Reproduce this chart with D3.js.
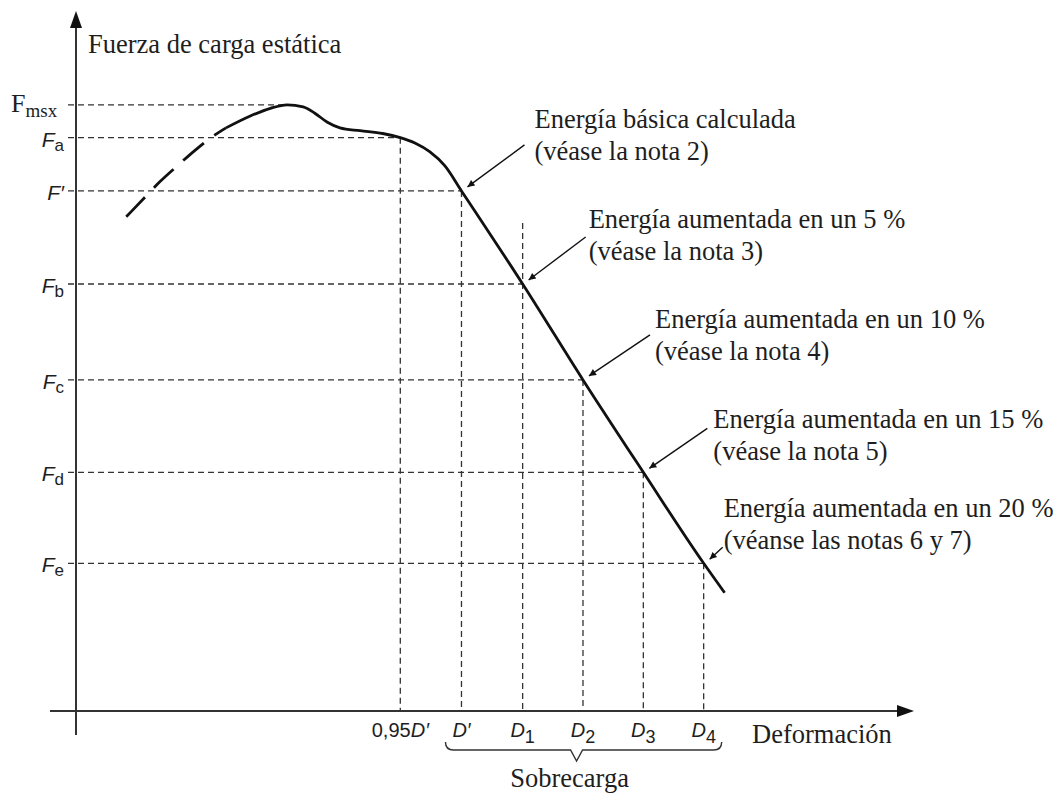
<!DOCTYPE html>
<html>
<head>
<meta charset="utf-8">
<script src="https://cdn.jsdelivr.net/npm/d3@7/dist/d3.min.js"></script>
<style>
  html, body { margin: 0; padding: 0; background: #fff; }
  svg { display: block; }
  .serif { font-family: "Liberation Serif", "Times New Roman", serif; fill: #1e1e1e; }
  .sans { font-family: "Liberation Sans", Arial, sans-serif; fill: #1e1e1e; }
</style>
</head>
<body>
<svg id="chart" width="1063" height="796"></svg>
<script>
// Deformation positions on the horizontal axis (arbitrary units)
const deformTicks = [38.7, 46.0, 53.3, 60.5, 67.7, 74.9];
const deformLabels = ["0,95D'", "D'", "D1", "D2", "D3", "D4"];

// Force levels on the vertical axis (arbitrary units)
const forceLevels = [86.6, 81.9, 74.3, 61.0, 47.3, 34.1, 21.1];
const forceLabels = ["Fmsx", "Fa", "F'", "Fb", "Fc", "Fd", "Fe"];

// Deformation where the peak force is reached
const peakDeform = 25.2;

// Initial (estimated) rise of the load curve, drawn dashed
const riseCurve = [
  [6.0, 70.6], [8.0, 73.1], [10.0, 75.6], [12.2, 78.0],
  [14.2, 80.1], [16.1, 81.9], [17.9, 83.3]
];

// Measured load curve: peak, plateau and linear decline
const loadCurve = [
  [17.9, 83.3], [20.8, 85.0], [23.2, 86.1], [25.2, 86.6], [27.1, 86.3],
  [28.5, 85.4], [30.0, 84.1], [31.5, 83.3], [33.9, 82.9], [36.6, 82.5],
  [38.7, 81.9], [40.5, 81.1], [42.2, 79.9], [44.0, 77.9],
  [46.0, 74.3], [53.3, 61.0], [60.5, 47.3], [67.7, 34.1], [74.9, 21.1],
  [77.4, 16.9]
];

// Upper end of the D1 guide line
const d1GuideTop = 69.7;

// Energy callouts: text lines and the deformation tick each one points at
const calloutText = [
  ["Energía básica calculada", "(véase la nota 2)"],
  ["Energía aumentada en un 5 %", "(véase la nota 3)"],
  ["Energía aumentada en un 10 %", "(véase la nota 4)"],
  ["Energía aumentada en un 15 %", "(véase la nota 5)"],
  ["Energía aumentada en un 20 %", "(véanse las notas 6 y 7)"]
];
const calloutTick = [1, 2, 3, 4, 5];

const axisTitleY = "Fuerza de carga estática";
const axisTitleX = "Deformación";
const braceLabel = "Sobrecarga";

// ---- layout ----
const svg = d3.select("#chart");
const x = d3.scaleLinear().domain([0, 100]).range([76, 914]);
const y = d3.scaleLinear().domain([0, 100]).range([711, 11]);
const TXT = 26.5;

// pixel offsets of callout text / arrow tail from the curve point
const calloutLayout = [
  { tx: 73, ty: -63, ax: 63, ay: -46 },
  { tx: 66, ty: -56, ax: 63, ay: -47 },
  { tx: 72, ty: -52, ax: 67, ay: -45 },
  { tx: 70, ty: -44, ax: 64, ay: -44 },
  { tx: 20, ty: -46, ax: 19, ay: -16 }
];

const defs = svg.append("defs");
defs.append("marker")
  .attr("id", "arrowHead")
  .attr("viewBox", "0 0 10 10")
  .attr("refX", 10).attr("refY", 5)
  .attr("markerWidth", 11).attr("markerHeight", 7)
  .attr("markerUnits", "userSpaceOnUse")
  .attr("orient", "auto")
  .append("path").attr("d", "M0,0 L10,5 L0,10 Z").attr("fill", "#111");

const guideStyle = g => g.attr("stroke", "#333").attr("stroke-width", 1.3)
  .attr("stroke-dasharray", "6,4").attr("fill", "none");

// horizontal guide lines, each ending at its deformation
const hEnds = [peakDeform].concat(deformTicks);
const guides = svg.append("g");
forceLevels.forEach((f, i) => {
  guides.append("line")
    .attr("x1", x(0) - 8).attr("x2", x(hEnds[i]))
    .attr("y1", y(f)).attr("y2", y(f))
    .call(guideStyle);
});
// vertical guide lines down to the deformation axis
deformTicks.forEach((d, i) => {
  const top = i === 2 ? d1GuideTop : forceLevels[i + 1];
  guides.append("line")
    .attr("x1", x(d)).attr("x2", x(d))
    .attr("y1", y(top)).attr("y2", y(0))
    .call(guideStyle);
});

// axes
const axes = svg.append("g").attr("stroke", "#333").attr("stroke-width", 2);
axes.append("line").attr("x1", x(0)).attr("x2", x(0))
  .attr("y1", y(0) + 24).attr("y2", y(100) + 12);
axes.append("line").attr("x1", x(0) - 26).attr("x2", x(100) - 14)
  .attr("y1", y(0)).attr("y2", y(0));
svg.append("path")
  .attr("d", `M${x(0)},${y(100)} L${x(0) - 6},${y(100) + 17} L${x(0) + 6},${y(100) + 17} Z`)
  .attr("fill", "#111");
svg.append("path")
  .attr("d", `M${x(100)},${y(0)} L${x(100) - 17},${y(0) - 6} L${x(100) - 17},${y(0) + 6} Z`)
  .attr("fill", "#111");

// load curve
const line = d3.line().x(d => x(d[0])).y(d => y(d[1])).curve(d3.curveMonotoneX);
svg.append("path").datum(riseCurve)
  .attr("d", line)
  .attr("fill", "none").attr("stroke", "#111").attr("stroke-width", 2.8)
  .attr("stroke-dasharray", "27,13");
svg.append("path").datum(loadCurve)
  .attr("d", line)
  .attr("fill", "none").attr("stroke", "#111").attr("stroke-width", 2.8);

// axis titles
svg.append("text").attr("class", "serif").attr("font-size", TXT)
  .attr("x", x(0) + 12).attr("y", 53).text(axisTitleY);
svg.append("text").attr("class", "serif").attr("font-size", TXT)
  .attr("x", 752).attr("y", 743).text(axisTitleX);

// force labels
forceLabels.forEach((lab, i) => {
  const yy = y(forceLevels[i]);
  if (lab === "Fmsx") {
    const t = svg.append("text").attr("class", "serif").attr("x", 11).attr("y", yy + 7);
    t.append("tspan").attr("font-size", 26).text("F");
    t.append("tspan").attr("font-size", 19).attr("dy", 5).text("msx");
    return;
  }
  const t = svg.append("text").attr("class", "sans")
    .attr("x", 64).attr("y", yy + 9).attr("text-anchor", "end");
  t.append("tspan").attr("font-size", 21).attr("font-style", "italic").text("F");
  const rest = lab.slice(1);
  if (rest === "'") {
    t.append("tspan").attr("font-size", 21).attr("font-style", "italic").text("′");
  } else {
    t.append("tspan").attr("font-size", 17).attr("dy", 4).text(rest);
  }
});

// deformation labels
deformLabels.forEach((lab, i) => {
  const t = svg.append("text").attr("class", "sans")
    .attr("x", x(deformTicks[i])).attr("y", 737).attr("text-anchor", "middle")
    .attr("font-size", 20);
  const k = lab.indexOf("D");
  if (k > 0) t.append("tspan").text(lab.slice(0, k));
  t.append("tspan").attr("font-style", "italic").text("D");
  const rest = lab.slice(k + 1);
  if (rest === "'") {
    t.append("tspan").attr("font-style", "italic").text("′");
  } else {
    t.append("tspan").attr("font-size", 18).attr("dy", 6).text(rest);
  }
});

// brace under the overload range
const bx0 = x(deformTicks[1]) - 16, bx1 = x(deformTicks[5]) + 18;
const bm = (bx0 + bx1) / 2 - 7, bt = 742;
svg.append("path")
  .attr("d", `M${bx0},${bt} Q${bx0},${bt + 8} ${bx0 + 8},${bt + 8} L${bm - 6},${bt + 8} L${bm},${bt + 19} L${bm + 6},${bt + 8} L${bx1 - 8},${bt + 8} Q${bx1},${bt + 8} ${bx1},${bt}`)
  .attr("fill", "none").attr("stroke", "#333").attr("stroke-width", 1.4);
svg.append("text").attr("class", "serif").attr("font-size", TXT)
  .attr("x", bm - 7).attr("y", 787).attr("text-anchor", "middle").text(braceLabel);

// callouts with arrows
calloutText.forEach((lines, i) => {
  const j = calloutTick[i];
  const px = x(deformTicks[j]), py = y(forceLevels[j + 1]);
  const L = calloutLayout[i];
  svg.append("line")
    .attr("x1", px + L.ax).attr("y1", py + L.ay)
    .attr("x2", px + 6).attr("y2", py - 4)
    .attr("stroke", "#111").attr("stroke-width", 1.4)
    .attr("marker-end", "url(#arrowHead)");
  lines.forEach((s, k) => {
    svg.append("text").attr("class", "serif").attr("font-size", TXT)
      .attr("x", px + L.tx).attr("y", py + L.ty + k * 32).text(s);
  });
});
</script>
</body>
</html>
